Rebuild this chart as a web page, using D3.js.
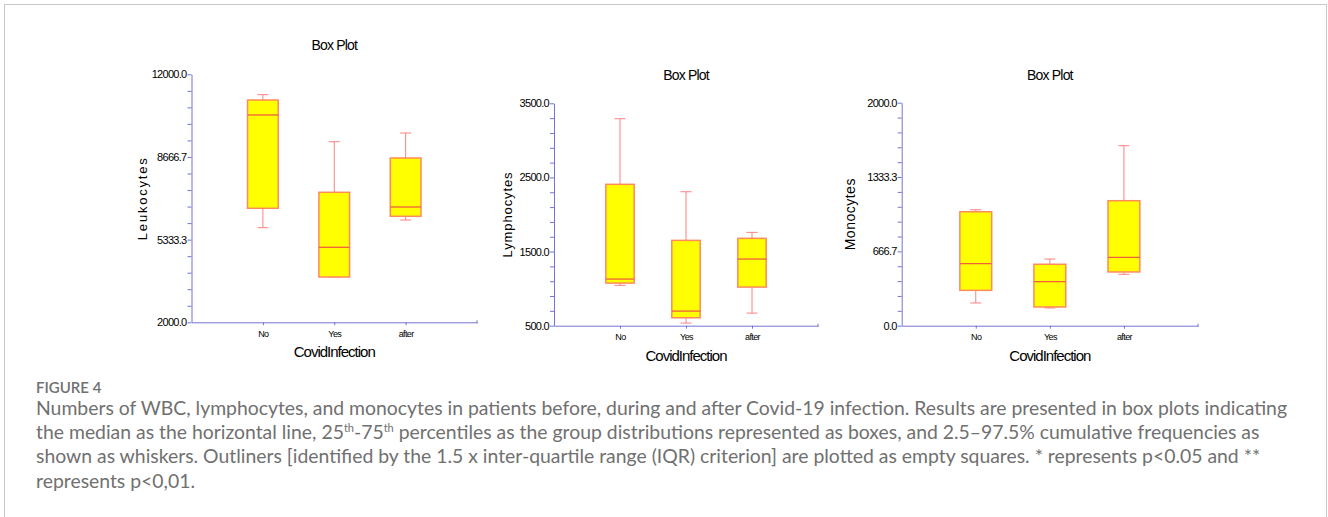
<!DOCTYPE html>
<html>
<head>
<meta charset="utf-8">
<script src="https://cdn.jsdelivr.net/npm/d3@7"></script>
<style>
  html, body { margin: 0; padding: 0; background: #fff; }
  svg { display: block; }
</style>
</head>
<body>
<svg id="svg"></svg>
<script>
const width = 1328;
const height = 517;

// groups on the x axis
const groups = ["No", "Yes", "after"];

// [lower whisker, q1, median, q3, upper whisker] per group
const leukocytes = [
    [5815, 6597, 10359, 10964, 11178],
    [3827, 3827, 5024, 7242, 9282],
    [6125, 6274, 6649, 8625, 9633]
];
const lymphocytes = [
    [1044, 1075, 1129, 2407, 3292],
    [535, 607, 697, 1651, 2307],
    [670, 1021, 1399, 1678, 1759]
];
const monocytes = [
    [204, 317, 556, 1022, 1040],
    [159, 168, 395, 551, 598],
    [461, 482, 613, 1121, 1614]
];

// y axis ranges (min, max)
const leukoRange = [2000, 12000];
const lymphoRange = [500, 3500];
const monoRange = [0, 2000];

const captionTitle = "FIGURE 4";
const captionLines = [
    ["Numbers of WBC, lymphocytes, and monocytes in patients before, during and after Covid-19 infection. Results are presented in box plots indicating"],
    ["the median as the horizontal line, 25", "th", "-75", "th", " percentiles as the group distributions represented as boxes, and 2.5\u201397.5% cumulative frequencies as"],
    ["shown as whiskers. Outliners [identified by the 1.5 x inter-quartile range (IQR) criterion] are plotted as empty squares. * represents p<0.05 and **"],
    ["represents p<0,01."]
];

let svg = d3.select("#svg").attr("width", width).attr("height", height);

const axisColor = "#7474d4";
const chartFont = "'Liberation Sans', Arial, sans-serif";

// frame around the figure
svg.append("rect")
    .attr("x", 4.5).attr("y", 4.5)
    .attr("width", width - 6).attr("height", height + 20)
    .attr("fill", "none")
    .attr("stroke", "#c9c9c9");

function drawBoxPlot(data, range, yTitle, box) {
    let x = d3.scalePoint()
        .domain(groups)
        .range([box.left, box.right])
        .padding(1);
    let y = d3.scaleLinear()
        .domain(range)
        .range([box.bottom, box.top]);
    let step = x.step();
    let bw = step * 0.43;

    let g = svg.append("g");

    // y axis: 15 intervals, label every 5th
    let ticks = d3.range(16).map(i => range[0] + i * (range[1] - range[0]) / 15);
    let yAxis = g.append("g")
        .attr("transform", `translate(${box.left},0)`)
        .call(d3.axisLeft(y).tickValues(ticks).tickSize(4).tickSizeOuter(0).tickPadding(1)
            .tickFormat((d, i) => i % 5 === 0 ? d.toFixed(1) : ""));
    yAxis.selectAll("path, line").attr("stroke", axisColor);
    yAxis.selectAll("text")
        .attr("font-family", chartFont)
        .attr("font-size", "11px")
        .attr("letter-spacing", "-0.7px")
        .attr("fill", "#000");

    // x axis
    let xAxis = g.append("g")
        .attr("transform", `translate(0,${box.bottom})`)
        .call(d3.axisBottom(x).tickSize(3).tickSizeOuter(0).tickPadding(5));
    xAxis.select(".domain").attr("stroke", axisColor);
    xAxis.selectAll("line").attr("stroke", axisColor);
    xAxis.append("line")
        .attr("x1", box.right).attr("x2", box.right)
        .attr("y1", -2).attr("y2", 1)
        .attr("stroke", axisColor);
    xAxis.selectAll("text")
        .attr("font-family", chartFont)
        .attr("font-size", "9px")
        .attr("letter-spacing", "-0.6px")
        .attr("fill", "#000");

    let stats = groups.map((gname, i) => ({ name: gname, v: data[i] }));

    // whiskers
    g.selectAll(".whisker")
        .data(stats)
        .join("line")
        .attr("x1", d => x(d.name)).attr("x2", d => x(d.name))
        .attr("y1", d => y(d.v[0])).attr("y2", d => y(d.v[4]))
        .attr("stroke", "#ff8080").attr("stroke-width", 1);
    [0, 4].forEach(k => {
        g.selectAll(".cap" + k)
            .data(stats)
            .join("line")
            .attr("x1", d => x(d.name) - 5.5).attr("x2", d => x(d.name) + 5.5)
            .attr("y1", d => y(d.v[k])).attr("y2", d => y(d.v[k]))
            .attr("stroke", "#ff8080").attr("stroke-width", 1);
    });

    // boxes
    g.selectAll(".box")
        .data(stats)
        .join("rect")
        .attr("x", d => x(d.name) - bw / 2)
        .attr("width", bw)
        .attr("y", d => y(d.v[3]))
        .attr("height", d => y(d.v[1]) - y(d.v[3]))
        .attr("fill", "#ffff00")
        .attr("stroke", "#ff8a5c")
        .attr("stroke-width", 1.5);

    // medians
    g.selectAll(".median")
        .data(stats)
        .join("line")
        .attr("x1", d => x(d.name) - bw / 2).attr("x2", d => x(d.name) + bw / 2)
        .attr("y1", d => y(d.v[2])).attr("y2", d => y(d.v[2]))
        .attr("stroke", "#f0603c").attr("stroke-width", 1.3);

    let cx = (box.left + box.right) / 2;
    g.append("text")
        .attr("x", cx).attr("y", box.titleY)
        .attr("text-anchor", "middle")
        .attr("font-family", chartFont)
        .attr("font-size", "14px")
        .attr("letter-spacing", "-0.8px")
        .attr("fill", "#000")
        .text("Box Plot");

    g.append("text")
        .attr("x", cx).attr("y", box.bottom + 35)
        .attr("text-anchor", "middle")
        .attr("font-family", chartFont)
        .attr("font-size", "15px")
        .attr("letter-spacing", "-1px")
        .attr("fill", "#000")
        .text("CovidInfection");

    g.append("text")
        .attr("transform", `translate(${box.yTitleX},${(box.top + box.bottom) / 2}) rotate(-90)`)
        .attr("text-anchor", "middle")
        .attr("dy", "0.35em")
        .attr("font-family", chartFont)
        .attr("font-size", box.titleSize)
        .attr("letter-spacing", box.spacing)
        .attr("fill", "#000")
        .text(yTitle);
}

drawBoxPlot(leukocytes, leukoRange, "Leukocytes",
    { left: 191.5, right: 477, top: 74.3, bottom: 322.3, titleY: 50, yTitleX: 142, spacing: "1.8px", titleSize: "13px" });
drawBoxPlot(lymphocytes, lymphoRange, "Lymphocytes",
    { left: 554, right: 818, top: 103.3, bottom: 325.7, titleY: 80, yTitleX: 507, spacing: "0.9px", titleSize: "13px" });
drawBoxPlot(monocytes, monoRange, "Monocytes",
    { left: 901.7, right: 1198, top: 102.7, bottom: 325.7, titleY: 80, yTitleX: 850, spacing: "0.5px", titleSize: "14px" });

// caption
const capFont = "Lato, 'Open Sans', sans-serif";
const capColor = "#707070";
svg.append("text")
    .attr("x", 36).attr("y", 393)
    .attr("font-family", capFont)
    .attr("font-size", "15px")
    .attr("font-weight", 600)
    .attr("fill", capColor)
    .text(captionTitle);

let capBaselines = [414.5, 439, 463, 487.5];
let capGroup = svg.append("g")
    .attr("font-family", capFont)
    .attr("font-size", "17px")
    .attr("fill", capColor);

let capTexts = capGroup.selectAll("text")
    .data(captionLines)
    .join("text")
    .attr("x", 36)
    .attr("y", (d, i) => capBaselines[i]);

capTexts.each(function (parts) {
    let t = d3.select(this);
    parts.forEach((p, j) => {
        let sup = p === "th";
        t.append("tspan")
            .attr("font-size", sup ? "11px" : null)
            .attr("dy", sup ? -7 : (j > 0 && parts[j - 1] === "th" ? 7 : null))
            .text(p);
    });
});

// fit the first line to the reference width
let firstLen = capTexts.node().getComputedTextLength();
let scale = 1252 / firstLen;
capGroup.attr("font-size", (17 * scale).toFixed(2) + "px");
</script>
</body>
</html>
